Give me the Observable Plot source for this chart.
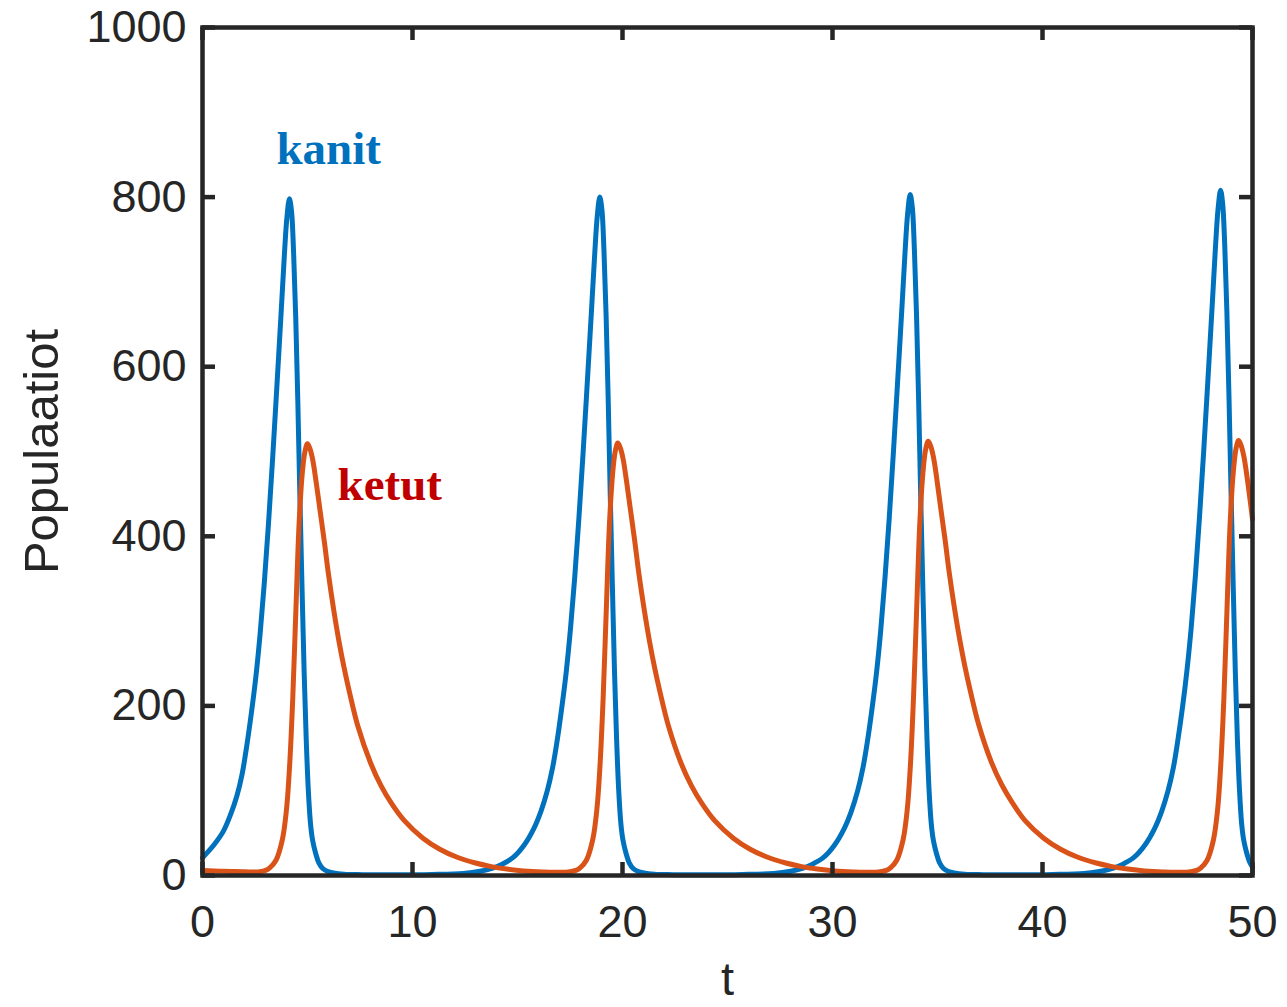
<!DOCTYPE html>
<html>
<head>
<meta charset="utf-8">
<script src="https://cdn.jsdelivr.net/npm/d3@7"></script>
<script src="https://cdn.jsdelivr.net/npm/@observablehq/plot@0.6"></script>
<style>
  html, body { margin: 0; padding: 0; background: #fff; }
  #chart svg { display: block; }
</style>
</head>
<body>
<div id="chart"></div>
<script>
// Prey (kanit) samples: time and population
const preyT = [
  0, 0.54, 0.99, 1.34, 1.64, 1.89, 2.09, 2.34, 2.54, 2.74, 2.94, 3.14, 3.34, 3.54, 3.74, 3.89, 4.02, 4.14,
  4.24, 4.34, 4.44, 4.54, 4.64, 4.74, 4.84, 4.94, 5.04, 5.14, 5.24, 5.39, 5.54, 5.74, 5.94, 6.24, 6.74, 7.64, 9.14,
  10.92, 12.42, 13.22, 13.82, 14.22, 14.78, 15.32, 15.77, 16.12, 16.42, 16.67, 16.87, 17.12, 17.32, 17.52, 17.72, 17.92, 18.12, 18.32, 18.52, 18.67, 18.80, 18.92,
  19.02, 19.12, 19.22, 19.32, 19.42, 19.52, 19.62, 19.72, 19.82, 19.92, 20.02, 20.17, 20.32, 20.52, 20.72, 21.02, 21.52, 22.42, 23.92,
  25.70, 27.20, 28.00, 28.60, 29.00, 29.56, 30.10, 30.55, 30.90, 31.20, 31.45, 31.65, 31.90, 32.10, 32.30, 32.50, 32.70, 32.90, 33.10, 33.30, 33.45, 33.58, 33.70,
  33.80, 33.90, 34.00, 34.10, 34.20, 34.30, 34.40, 34.50, 34.60, 34.70, 34.80, 34.95, 35.10, 35.30, 35.50, 35.80, 36.30, 37.20, 38.70,
  40.48, 41.98, 42.78, 43.38, 43.78, 44.34, 44.88, 45.33, 45.68, 45.98, 46.23, 46.43, 46.68, 46.88, 47.08, 47.28, 47.48, 47.68, 47.88, 48.08, 48.23, 48.36, 48.48,
  48.58, 48.68, 48.78, 48.88, 48.98, 49.08, 49.18, 49.28, 49.38, 49.48, 49.58, 49.73, 49.88, 50.0
];
const preyN = [
  21, 36, 52, 72, 94, 120, 150, 194, 234, 284, 344, 414, 492, 576, 662, 728, 776, 798,
  783, 733, 658, 558, 444, 339, 240, 160, 100, 62, 42, 26, 15, 8, 5, 3, 1.5, 1, 0.8,
  1.2, 2.4, 5, 8.8, 12.8, 21, 36, 55, 76, 100, 127, 156, 200, 240, 290, 350, 420, 497, 580, 665, 730, 778, 800,
  785, 735, 660, 560, 445, 340, 240, 160, 100, 62, 42, 26, 15, 8, 5, 3, 1.5, 1, 0.8,
  1.2, 2.4, 5, 8.8, 12.8, 21, 36, 55, 76, 100, 127, 156, 200, 240, 290, 351, 421, 499, 582, 667, 733, 781, 803,
  788, 738, 662, 562, 447, 341, 241, 161, 100, 62, 42, 26, 15, 8, 5, 3, 1.5, 1, 0.8,
  1.2, 2.4, 5, 8.8, 12.8, 21, 36, 55, 76, 100, 127, 157, 201, 242, 292, 353, 424, 502, 586, 672, 738, 786, 808,
  792, 742, 665, 565, 450, 343, 242, 161, 101, 62, 42, 26, 15, 10
];

// Predator (ketut) samples: time and population
const predT = [
  0, 1.0, 2.0, 2.5, 2.8, 3.0, 3.2, 3.5, 3.8, 4.0, 4.15, 4.3, 4.45, 4.6, 4.75, 4.88, 5.0,
  5.12, 5.25, 5.4, 5.6, 5.8, 6.0, 6.25, 6.5, 6.75, 7.0, 7.4, 8.0, 8.5, 9.0, 9.6, 10.5, 11.3, 12.1, 13.0, 13.7, 14.5, 15.3, 16.2,
  17.28, 17.58, 17.78, 17.98, 18.28, 18.58, 18.78, 18.93, 19.08, 19.23, 19.38, 19.53, 19.66, 19.78,
  19.90, 20.03, 20.18, 20.38, 20.58, 20.78, 21.03, 21.28, 21.53, 21.78, 22.18, 22.78, 23.28, 23.78, 24.38, 25.28, 26.08, 26.88, 27.78, 28.48, 29.28, 30.08, 30.98,
  32.06, 32.36, 32.56, 32.76, 33.06, 33.36, 33.56, 33.71, 33.86, 34.01, 34.16, 34.31, 34.44, 34.56,
  34.68, 34.81, 34.96, 35.16, 35.36, 35.56, 35.81, 36.06, 36.31, 36.56, 36.96, 37.56, 38.06, 38.56, 39.16, 40.06, 40.86, 41.66, 42.56, 43.26, 44.06, 44.86, 45.76,
  46.84, 47.14, 47.34, 47.54, 47.84, 48.14, 48.34, 48.49, 48.64, 48.79, 48.94, 49.09, 49.22, 49.34,
  49.46, 49.59, 49.74, 49.9, 50.0
];
const predN = [
  6, 5, 4.5, 4, 4.8, 6, 9, 18, 42, 78, 130, 210, 315, 415, 474, 500, 509,
  503, 490, 466, 430, 394, 355, 313, 276, 244, 216, 176, 133, 106, 85, 65, 44, 31, 21.8, 14.7, 10.8, 7.6, 5.4, 4.2,
  3.8, 4.8, 6, 9, 18, 42, 78, 130, 210, 315, 415, 474, 501, 510,
  504, 491, 467, 431, 395, 356, 314, 277, 245, 217, 177, 133, 106, 85, 65, 44, 31, 21.8, 14.7, 10.8, 7.6, 5.4, 4.2,
  3.8, 4.8, 6, 9, 18, 42, 78, 130, 211, 316, 417, 476, 503, 512,
  506, 493, 469, 432, 396, 357, 315, 278, 246, 218, 178, 134, 107, 86, 65, 44, 31, 21.8, 14.7, 10.8, 7.6, 5.4, 4.2,
  3.8, 4.8, 6, 9, 18, 42, 78, 131, 211, 317, 418, 477, 504, 513,
  507, 494, 470, 440, 420
];

const xTicks = [0, 10, 20, 30, 40, 50];
const yTicks = [0, 200, 400, 600, 800, 1000];

const seriesNames = ["kanit", "ketut"];
const labelT = [3.52, 6.43];
const labelN = [857, 460];

const prey = preyT.map((t, i) => ({t, n: preyN[i]}));
const pred = predT.map((t, i) => ({t, n: predN[i]}));
const labels = seriesNames.map((s, i) => ({s, t: labelT[i], n: labelN[i]}));

const axisColor = "#262626";
const W = 1287, H = 1007;
const mL = 202, mR = 35, mT = 27, mB = 132;
const fw = W - mL - mR, fh = H - mT - mB;
const tickLen = 13;

const chart = Plot.plot({
  width: W,
  height: H,
  marginLeft: mL,
  marginRight: mR,
  marginTop: mT,
  marginBottom: mB,
  style: {fontFamily: "'Liberation Sans', Arial, Helvetica, sans-serif", background: "#fff"},
  x: {domain: [0, 50]},
  y: {domain: [0, 1000]},
  marks: [
    Plot.line(prey, {x: "t", y: "n", stroke: "#0072BD", strokeWidth: 5, curve: "catmull-rom"}),
    Plot.line(pred, {x: "t", y: "n", stroke: "#D95319", strokeWidth: 5, curve: "catmull-rom"}),
    // inward ticks on all four sides
    Plot.tickX(xTicks, {x: d => d, stroke: axisColor, strokeWidth: 4.5, insetTop: fh - tickLen}),
    Plot.tickX(xTicks, {x: d => d, stroke: axisColor, strokeWidth: 4.5, insetBottom: fh - tickLen}),
    Plot.tickY(yTicks, {y: d => d, stroke: axisColor, strokeWidth: 4.5, insetRight: fw - tickLen}),
    Plot.tickY(yTicks, {y: d => d, stroke: axisColor, strokeWidth: 4.5, insetLeft: fw - tickLen}),
    Plot.frame({stroke: axisColor, strokeWidth: 4.5}),
    Plot.axisX({ticks: xTicks, tickFormat: d => String(d), tickSize: 0, tickPadding: 30, fontSize: 45, color: axisColor, label: null}),
    Plot.axisY({ticks: yTicks, tickFormat: d => String(d), tickSize: 0, tickPadding: 16, fontSize: 45, color: axisColor, label: null}),
    Plot.text(["Populaatiot"], {frameAnchor: "left", dx: -160, rotate: -90, fontSize: 49, fill: axisColor, textAnchor: "middle", lineAnchor: "middle"}),
    Plot.text(["t"], {frameAnchor: "bottom", dy: 104, fontSize: 47, fill: axisColor, textAnchor: "middle", lineAnchor: "middle"}),
    Plot.text(labels, {x: "t", y: "n", text: "s", textAnchor: "start", lineAnchor: "middle",
      fontFamily: "'Liberation Serif', 'Times New Roman', serif", fontWeight: "bold", fontSize: 47,
      fill: d => d.s === "kanit" ? "#0072BD" : "#C00000"})
  ]
});
document.getElementById("chart").appendChild(chart);
</script>
</body>
</html>
